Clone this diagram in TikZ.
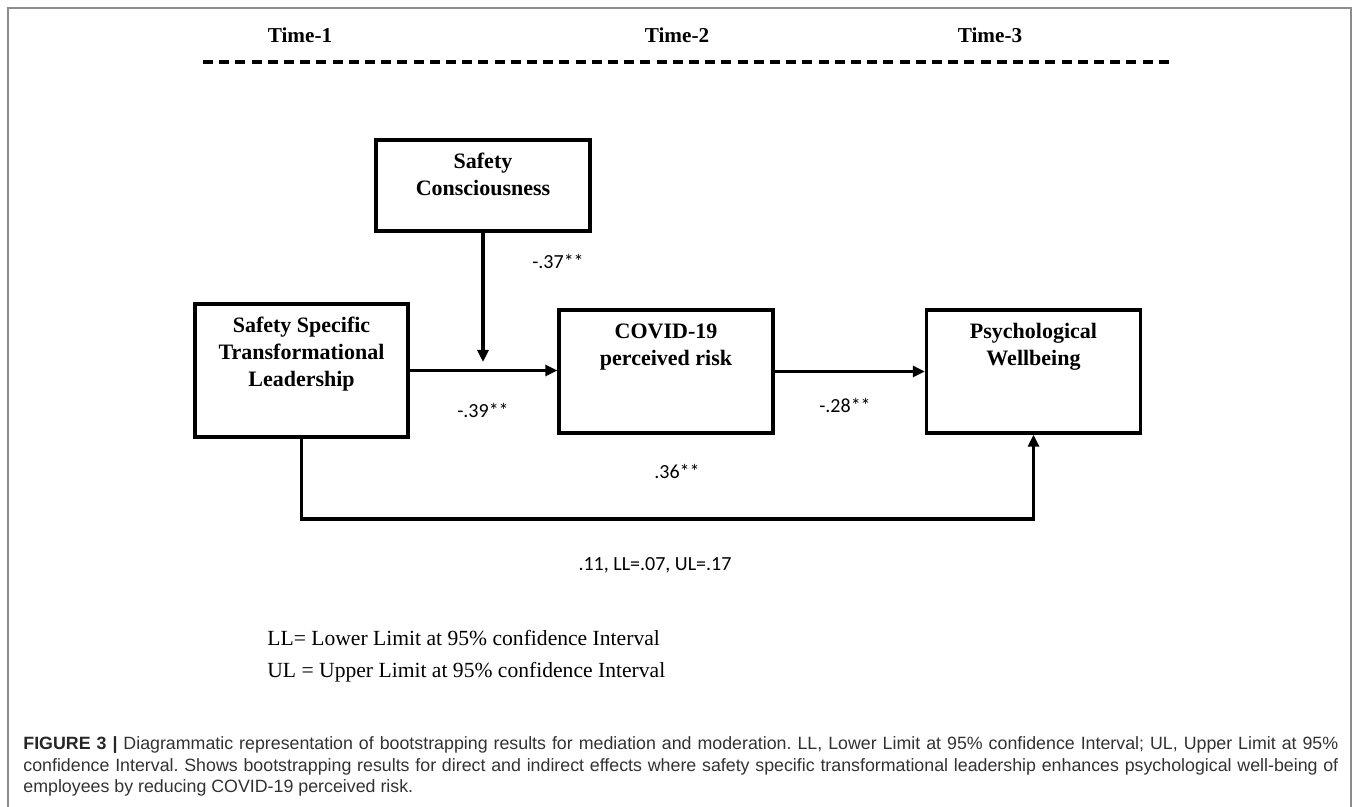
\documentclass[tikz,border=0pt]{standalone}
\usepackage{fontspec}
\setmainfont{Liberation Serif}
\newfontfamily\numfont{Carlito}
\newfontfamily\capfont{Liberation Sans}
\usetikzlibrary{arrows.meta,positioning}
\definecolor{framegray}{RGB}{140,140,140}
\definecolor{captext}{RGB}{50,50,50}
\tikzset{
    varbox/.style={draw, line width=1.7pt, inner sep=0pt, minimum width=107pt, minimum height=61.5pt},
    vartext/.style={align=center, inner sep=0pt, font=\fontsize{11}{13.5}\selectfont\bfseries},
    path label/.style={anchor=base, inner sep=0pt, font=\numfont\fontsize{10}{12}\selectfont},
    time label/.style={anchor=base, inner sep=0pt, font=\fontsize{10.6}{12}\selectfont\bfseries},
    note/.style={anchor=base west, inner sep=0pt, font=\fontsize{10.8}{13}\selectfont},
    link/.style={line width=1.6pt, -{Triangle[length=6pt,width=5.5pt]}},
}
\frenchspacing
\begin{document}
\begin{tikzpicture}[x=0.5pt, y=-0.5pt]
    \useasboundingbox (0,0) rectangle (1360,807);
    % Draw the frame
    \draw[framegray, line width=1pt] (8,807) -- (8,8) -- (1351,8) -- (1351,807);
    % Time points and the dashed time line
    \foreach \i/\x in {1/300, 2/677, 3/990} {
            \node[time label] (time\i) at (\x,43) {Time-\i};
        }
    \coordinate (dash-l) at (203,62);
    \coordinate (dash-r) at (1170,62);
    \draw[line width=2pt, dash pattern=on 5pt off 3.1pt] (dash-l) -- (dash-r);
    % Draw the variables
    \node[varbox, minimum height=45.5pt] (sc) at (483,185.5) {};
    \node[varbox, minimum width=106.5pt, minimum height=66.5pt] (sstl) at (301.5,370.5) {};
    \node[varbox] (covid) at (666,371.5) {};
    \node[varbox] (pw) at (1033.5,371.5) {};
    \node[vartext, below=7pt of sc.north] (sc-t) {Safety\\Consciousness};
    \node[vartext, below=7pt of sstl.north] (sstl-t) {Safety Specific\\Transformational\\Leadership};
    \node[vartext, below=7.5pt of covid.north] (covid-t) {COVID-19\\perceived risk};
    \node[vartext, below=7.5pt of pw.north] (pw-t) {Psychological\\Wellbeing};
    % Draw the paths
    \coordinate (mod) at (483,362);
    \coordinate (low) at (301.5,519);
    \draw[link] (sc.south) -- (mod); % moderation
    \draw[link] (sstl.east) -- (sstl.east -| covid.west);
    \draw[link] (covid.east) -- (pw.west);
    \draw[link] (sstl.south) -- (low) -| (pw.south); % direct effect
    % Path coefficients
    \node[path label] (b-mod) at (558,269) {-.37**};
    \node[path label] (b-a) at (483,418) {-.39**};
    \node[path label] (b-b) at (845,413) {-.28**};
    \node[path label] (b-c) at (677,479) {.36**};
    \node[path label] (b-ind) at (655,570) {.11, LL=.07, UL=.17};
    % Notes and caption
    \node[note] (ll) at (267,645) {LL= Lower Limit at 95\% confidence Interval};
    \node[note] (ul) at (267,677) {UL = Upper Limit at 95\% confidence Interval};
    \node[anchor=north west, inner sep=0pt, text width=657.5pt, align=justify, text=captext,
        font=\capfont\fontsize{8.9}{10.9}\selectfont] (caption) at (23,736)
        {{\color{black!85}\bfseries FIGURE 3 |} Diagrammatic representation of bootstrapping results for mediation and moderation. LL, Lower Limit at 95\% confidence Interval; UL, Upper Limit at 95\%\linebreak
        confidence Interval. Shows bootstrapping results for direct and indirect effects where safety specific transformational leadership enhances psychological well-being of\linebreak
        employees by reducing COVID-19 perceived risk.};
\end{tikzpicture}
\end{document}
